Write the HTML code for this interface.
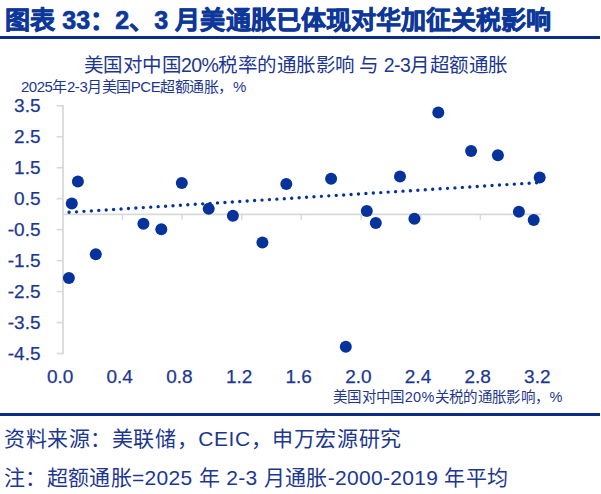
<!DOCTYPE html>
<html lang="zh-CN"><head><meta charset="utf-8">
<style>
html,body{margin:0;padding:0;background:#fff;}
body{width:601px;height:494px;position:relative;overflow:hidden;font-family:"Liberation Sans",sans-serif;}
.t{position:absolute;white-space:nowrap;line-height:1.2;}
#title{-webkit-text-stroke:0.7px #0d389a;}
.yl,.xl{-webkit-text-stroke:0.25px #1d3790;}
.hr{position:absolute;left:0;width:600px;height:3px;background:#0a2c86;}
.yl{position:absolute;right:560.5px;font-size:19px;color:#1d3790;line-height:22px;text-align:right;}
.xl{position:absolute;top:366px;width:60px;text-align:center;font-size:19px;color:#1d3790;line-height:22px;}
svg{position:absolute;left:0;top:0;}
</style></head><body>
<div class="hr" style="top:36px"></div>
<svg width="601" height="494" viewBox="0 0 601 494">
<line x1="63" y1="105.00" x2="63" y2="354.28" stroke="#d9d9d9" stroke-width="1.8"/>
<line x1="56.7" y1="105.80" x2="63" y2="105.80" stroke="#d9d9d9" stroke-width="1.6"/>
<line x1="56.7" y1="136.76" x2="63" y2="136.76" stroke="#d9d9d9" stroke-width="1.6"/>
<line x1="56.7" y1="167.72" x2="63" y2="167.72" stroke="#d9d9d9" stroke-width="1.6"/>
<line x1="56.7" y1="198.68" x2="63" y2="198.68" stroke="#d9d9d9" stroke-width="1.6"/>
<line x1="56.7" y1="229.64" x2="63" y2="229.64" stroke="#d9d9d9" stroke-width="1.6"/>
<line x1="56.7" y1="260.60" x2="63" y2="260.60" stroke="#d9d9d9" stroke-width="1.6"/>
<line x1="56.7" y1="291.56" x2="63" y2="291.56" stroke="#d9d9d9" stroke-width="1.6"/>
<line x1="56.7" y1="322.52" x2="63" y2="322.52" stroke="#d9d9d9" stroke-width="1.6"/>
<line x1="56.7" y1="353.48" x2="63" y2="353.48" stroke="#d9d9d9" stroke-width="1.6"/>
<line x1="63" y1="214.3" x2="541.2" y2="214.3" stroke="#d9d9d9" stroke-width="1.8"/>
<line x1="122.45" y1="214.3" x2="122.45" y2="219.8" stroke="#d9d9d9" stroke-width="1.5"/>
<line x1="182.10" y1="214.3" x2="182.10" y2="219.8" stroke="#d9d9d9" stroke-width="1.5"/>
<line x1="241.75" y1="214.3" x2="241.75" y2="219.8" stroke="#d9d9d9" stroke-width="1.5"/>
<line x1="301.40" y1="214.3" x2="301.40" y2="219.8" stroke="#d9d9d9" stroke-width="1.5"/>
<line x1="361.05" y1="214.3" x2="361.05" y2="219.8" stroke="#d9d9d9" stroke-width="1.5"/>
<line x1="420.70" y1="214.3" x2="420.70" y2="219.8" stroke="#d9d9d9" stroke-width="1.5"/>
<line x1="480.35" y1="214.3" x2="480.35" y2="219.8" stroke="#d9d9d9" stroke-width="1.5"/>
<line x1="69.1" y1="212.3" x2="536.9" y2="182.7" stroke="#06339b" stroke-width="3.4" stroke-linecap="round" stroke-dasharray="0 7.435"/>
<circle cx="68.9" cy="277.9" r="6.0" fill="#06339b"/>
<circle cx="71.8" cy="203.4" r="6.0" fill="#06339b"/>
<circle cx="77.9" cy="181.6" r="6.0" fill="#06339b"/>
<circle cx="95.8" cy="254.2" r="6.0" fill="#06339b"/>
<circle cx="143.4" cy="223.7" r="6.0" fill="#06339b"/>
<circle cx="161.3" cy="229.2" r="6.0" fill="#06339b"/>
<circle cx="181.8" cy="182.9" r="6.0" fill="#06339b"/>
<circle cx="208.7" cy="208.7" r="6.0" fill="#06339b"/>
<circle cx="232.9" cy="215.8" r="6.0" fill="#06339b"/>
<circle cx="262.4" cy="242.6" r="6.0" fill="#06339b"/>
<circle cx="286.3" cy="184.0" r="6.0" fill="#06339b"/>
<circle cx="331.1" cy="178.7" r="6.0" fill="#06339b"/>
<circle cx="345.8" cy="346.8" r="6.0" fill="#06339b"/>
<circle cx="366.8" cy="211.1" r="6.0" fill="#06339b"/>
<circle cx="375.8" cy="222.9" r="6.0" fill="#06339b"/>
<circle cx="400.0" cy="176.4" r="6.0" fill="#06339b"/>
<circle cx="414.4" cy="218.7" r="6.0" fill="#06339b"/>
<circle cx="438.3" cy="112.5" r="6.0" fill="#06339b"/>
<circle cx="471.1" cy="150.9" r="6.0" fill="#06339b"/>
<circle cx="497.9" cy="155.3" r="6.0" fill="#06339b"/>
<circle cx="518.9" cy="211.8" r="6.0" fill="#06339b"/>
<circle cx="533.7" cy="220.0" r="6.0" fill="#06339b"/>
<circle cx="539.7" cy="177.6" r="6.0" fill="#06339b"/>
</svg>
<div class="yl" style="top:95.0px">3.5</div>
<div class="yl" style="top:126.0px">2.5</div>
<div class="yl" style="top:156.9px">1.5</div>
<div class="yl" style="top:187.9px">0.5</div>
<div class="yl" style="top:218.8px">-0.5</div>
<div class="yl" style="top:249.8px">-1.5</div>
<div class="yl" style="top:280.8px">-2.5</div>
<div class="yl" style="top:311.7px">-3.5</div>
<div class="yl" style="top:342.7px">-4.5</div>
<div class="xl" style="left:30.1px">0.0</div>
<div class="xl" style="left:89.7px">0.4</div>
<div class="xl" style="left:149.4px">0.8</div>
<div class="xl" style="left:209.1px">1.2</div>
<div class="xl" style="left:268.7px">1.6</div>
<div class="xl" style="left:328.4px">2.0</div>
<div class="xl" style="left:388.0px">2.4</div>
<div class="xl" style="left:447.7px">2.8</div>
<div class="xl" style="left:507.3px">3.2</div>

<div class="hr" style="top:413px"></div>
<div class="t" id="title" style="left:5.00px;top:5.00px;font-size:25px;font-weight:bold;color:#0d389a;letter-spacing:0.083px">图表 33：2、3 月美通胀已体现对华加征关税影响</div>
<div class="t" id="ctitle" style="left:83.80px;top:53.80px;font-size:19.5px;font-weight:normal;color:#1d3790;letter-spacing:-0.552px">美国对中国20%税率的通胀影响 与 2-3月超额通胀</div>
<div class="t" id="ytitle" style="left:21.00px;top:78.00px;font-size:15px;font-weight:normal;color:#1d3790;letter-spacing:-0.474px">2025年2-3月美国PCE超额通胀，%</div>
<div class="t" id="xtitle" style="left:333.00px;top:389.00px;font-size:14.5px;font-weight:normal;color:#1d3790;letter-spacing:0.338px">美国对中国20%关税的通胀影响，%</div>
<div class="t" id="src" style="left:4.00px;top:426.00px;font-size:21px;font-weight:normal;color:#1d3790;letter-spacing:0.579px">资料来源：美联储，CEIC，申万宏源研究</div>
<div class="t" id="note" style="left:4.00px;top:465.00px;font-size:21px;font-weight:normal;color:#1d3790;letter-spacing:0.324px">注：超额通胀=2025 年 2-3 月通胀-2000-2019 年平均</div>
</body></html>
